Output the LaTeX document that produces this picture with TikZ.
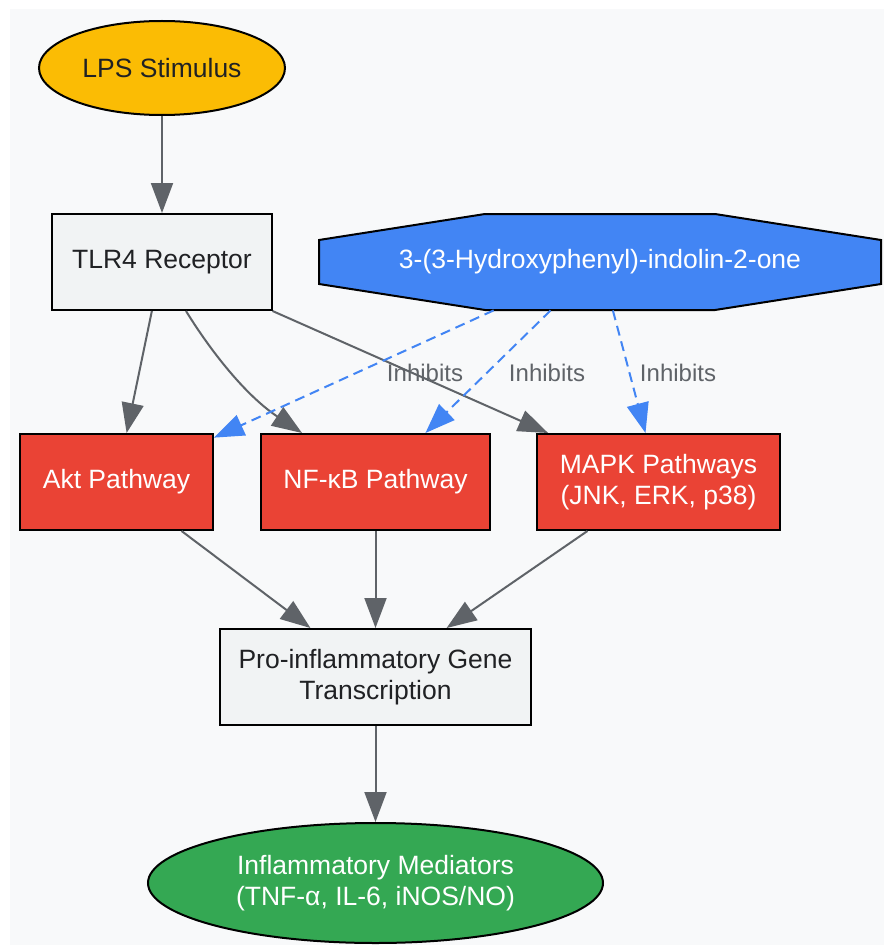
\documentclass[tikz,border=0pt]{standalone}
\usepackage{fontspec}
\setmainfont{Liberation Sans}
\usepackage{tikz}
\usetikzlibrary{shapes.geometric, arrows.meta, positioning}

\definecolor{bgcol}{HTML}{F8F9FA}
\definecolor{lpscol}{HTML}{FBBC04}
\definecolor{boxcol}{HTML}{F1F3F4}
\definecolor{drugcol}{HTML}{4285F4}
\definecolor{pathcol}{HTML}{EA4335}
\definecolor{medcol}{HTML}{34A853}
\definecolor{edgecol}{HTML}{5F6368}
\definecolor{txtcol}{HTML}{202124}

\begin{document}
\begin{tikzpicture}[x=0.5pt, y=-0.5pt,
    every node/.style={font=\fontsize{13.25}{15.5}\selectfont, align=center, inner sep=0pt},
    oval/.style={ellipse, draw=black, line width=1pt},
    greybox/.style={rectangle, draw=black, line width=1pt, fill=boxcol, text=txtcol},
    redbox/.style={rectangle, draw=black, line width=1pt, fill=pathcol, text=white,
        minimum height=48pt},
    arr/.style={draw=edgecol, line width=1pt, -{Triangle[length=15pt, width=11pt]}},
    inh/.style={draw=drugcol, line width=1pt, dash pattern=on 5pt off 3pt,
        -{Triangle[length=15pt, width=11pt]}},
    inhtxt/.style={font=\fontsize{12}{14}\selectfont, text=edgecol}]
    \useasboundingbox (0,0) rectangle (884,947);
    \fill[bgcol] (10,9) rectangle (884,945);

    % nodes
    \node[oval, fill=lpscol, text=txtcol, minimum width=123pt, minimum height=47pt] (lps) at (162,68) {LPS Stimulus};
    \node[greybox, minimum width=110pt, minimum height=48pt] (tlr4) at (162,262) {TLR4 Receptor};
    \draw[fill=drugcol, line width=1pt] (319,240) -- (485,214) -- (715,214) -- (881,240)
        -- (881,284) -- (715,310) -- (485,310) -- (319,284) -- cycle;
    \node[minimum width=281pt, minimum height=48pt, text=white] (drug) at (600,262) {3-(3-Hydroxyphenyl)-indolin-2-one};
    \node[redbox, minimum width=96.5pt] (akt) at (116.5,482) {Akt Pathway};
    \node[redbox, minimum width=114.5pt] (nfkb) at (375.5,482) {NF-κB Pathway};
    \node[redbox, minimum width=121.5pt] (mapk) at (658.5,482) {MAPK Pathways\\(JNK, ERK, p38)};
    \node[greybox, minimum width=155.5pt, minimum height=48pt] (gene) at (375.5,677) {Pro-inflammatory Gene\\Transcription};
    \node[oval, fill=medcol, text=white, minimum width=227.5pt, minimum height=60pt] (med) at (375.5,883) {Inflammatory Mediators\\(TNF-α, IL-6, iNOS/NO)};

    % signalling
    \draw[arr] (lps) -- (tlr4);
    \draw[arr] (tlr4) -- (akt);
    \draw[arr] ([xshift=12pt]tlr4.south) .. controls (210,350) and (245,395) .. (nfkb);
    \draw[arr] (tlr4) -- (mapk);
    \foreach \p in {akt, nfkb, mapk}
        \draw[arr] (\p) -- (gene);
    \draw[arr] (gene) -- (med);

    % inhibition
    \foreach \p in {akt, nfkb, mapk}
        \draw[inh] (drug) -- (\p);
    \node[inhtxt] (inh1) at (425,373) {Inhibits};
    \node[inhtxt] (inh2) at (547,373) {Inhibits};
    \node[inhtxt] (inh3) at (678,373) {Inhibits};
\end{tikzpicture}
\end{document}
